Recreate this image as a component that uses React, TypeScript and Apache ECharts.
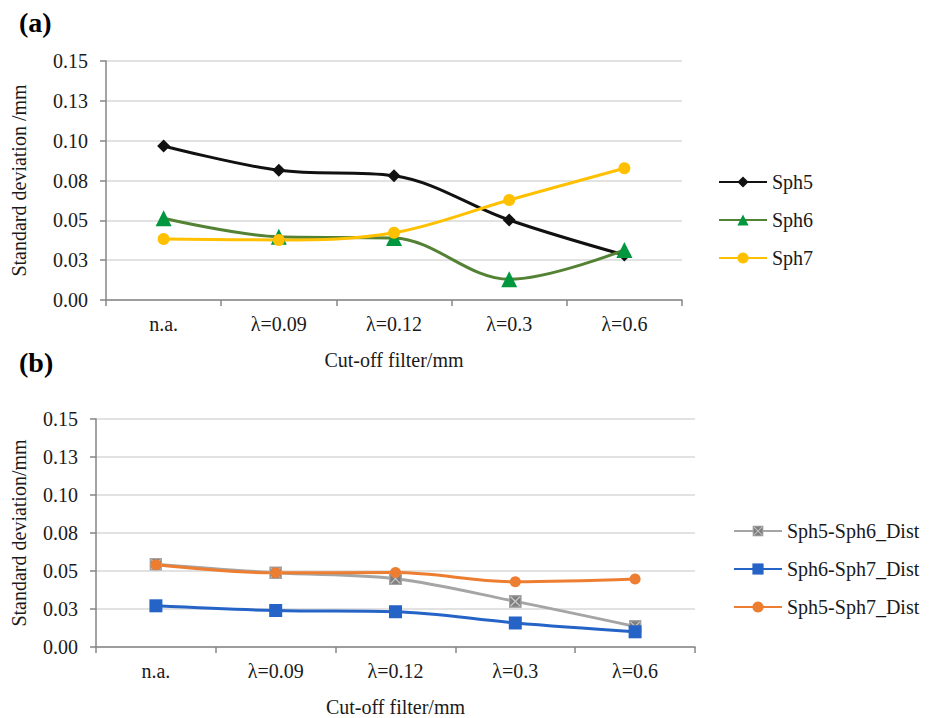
import React, { useEffect, useRef } from "react";
import * as echarts from "echarts";

const categories = ["n.a.", "λ=0.09", "λ=0.12", "λ=0.3", "λ=0.6"];
const tickLabels = ["0.00", "0.03", "0.05", "0.08", "0.10", "0.13", "0.15"];

const sph5 = [0.0967, 0.0814, 0.078, 0.0502, 0.0282];
const sph6 = [0.0513, 0.0397, 0.0389, 0.013, 0.0314];
const sph7 = [0.0383, 0.0377, 0.0422, 0.0628, 0.0827];

const dist56 = [0.0545, 0.0488, 0.0449, 0.03, 0.0135];
const dist67 = [0.0271, 0.024, 0.0232, 0.0158, 0.01];
const dist57 = [0.0541, 0.0488, 0.049, 0.0429, 0.0447];

const FONT = "Liberation Serif";
const TXT = "#1a1a1a";

const crossSvg =
  '<svg xmlns="http://www.w3.org/2000/svg" width="14" height="14" viewBox="0 0 14 14">' +
  '<rect x="0.75" y="0.75" width="12.5" height="12.5" fill="#7f7f7f" stroke="#a5a5a5" stroke-width="1.5"/>' +
  '<path d="M2,2 L12,12 M12,2 L2,12" stroke="#c8c8c8" stroke-width="1.3"/></svg>';
const crossSymbol = "image://data:image/svg+xml;charset=utf-8," + encodeURIComponent(crossSvg);

const txtStyle = { fontFamily: FONT, fontSize: 20, color: TXT };

function xAxisCfg(gridIndex: number) {
  return {
    type: "category",
    gridIndex,
    data: categories,
    boundaryGap: true,
    name: "Cut-off filter/mm",
    nameLocation: "middle",
    nameGap: 50,
    nameTextStyle: { ...txtStyle },
    axisLine: { show: true, lineStyle: { color: "#868686", width: 1.5 } },
    axisTick: { show: true, length: 6, lineStyle: { color: "#868686", width: 1.5 } },
    axisLabel: { ...txtStyle, margin: 14 },
    splitLine: { show: false },
  };
}

function yAxisCfg(gridIndex: number, name: string, nameGap: number) {
  return {
    type: "value",
    gridIndex,
    min: 0,
    max: 0.15,
    interval: 0.025,
    name,
    nameLocation: "middle",
    nameGap,
    nameTextStyle: { ...txtStyle },
    axisLine: { show: true, lineStyle: { color: "#868686", width: 1.5 } },
    axisTick: { show: true, length: 6, lineStyle: { color: "#868686", width: 1.5 } },
    axisLabel: {
      ...txtStyle,
      margin: 18,
      formatter: (v: number) => tickLabels[Math.round(v / 0.025)] ?? "",
    },
    splitLine: { show: true, lineStyle: { color: "#d9d9d9", width: 1.5 } },
  };
}

export default function App() {
  const ref = useRef<HTMLDivElement>(null);
  useEffect(() => {
    if (!ref.current) return;
    const chart = echarts.init(ref.current, null, { renderer: "svg" });
    const legendText = { ...txtStyle, lineHeight: 20 };
    chart.setOption({
      animation: false,
      backgroundColor: "#ffffff",
      textStyle: { ...txtStyle },
      grid: [
        { left: 106, top: 61, width: 576, height: 239 },
        { left: 96, top: 419, width: 599, height: 228 },
      ],
      xAxis: [xAxisCfg(0), xAxisCfg(1)],
      yAxis: [
        yAxisCfg(0, "Standard deviation /mm", 77),
        yAxisCfg(1, "Standard deviation/mm", 67),
      ],
      legend: [
        {
          data: ["Sph5", "Sph6", "Sph7"],
          orient: "vertical",
          left: 718,
          top: 172,
          padding: 0,
          itemWidth: 48,
          itemHeight: 14,
          itemGap: 18,
          textStyle: legendText,
        },
        {
          data: ["Sph5-Sph6_Dist", "Sph6-Sph7_Dist", "Sph5-Sph7_Dist"],
          orient: "vertical",
          left: 733,
          top: 521,
          padding: 0,
          itemWidth: 48,
          itemHeight: 14,
          itemGap: 18,
          textStyle: legendText,
        },
      ],
      graphic: [
        {
          type: "text",
          left: 19,
          top: 8,
          style: { text: "(a)", fontFamily: FONT, fontWeight: "bold", fontSize: 28, fill: "#000" },
        },
        {
          type: "text",
          left: 19,
          top: 348,
          style: { text: "(b)", fontFamily: FONT, fontWeight: "bold", fontSize: 28, fill: "#000" },
        },
      ],
      series: [
        {
          name: "Sph5",
          type: "line",
          xAxisIndex: 0,
          yAxisIndex: 0,
          data: sph5,
          smooth: 0.35,
          symbol: "diamond",
          symbolSize: 13,
          lineStyle: { color: "#111111", width: 3 },
          itemStyle: { color: "#111111" },
        },
        {
          name: "Sph6",
          type: "line",
          xAxisIndex: 0,
          yAxisIndex: 0,
          data: sph6,
          smooth: 0.35,
          symbol: "triangle",
          symbolSize: 16,
          lineStyle: { color: "#548235", width: 3 },
          itemStyle: { color: "#00973f" },
        },
        {
          name: "Sph7",
          type: "line",
          xAxisIndex: 0,
          yAxisIndex: 0,
          data: sph7,
          smooth: 0.35,
          symbol: "circle",
          symbolSize: 12,
          lineStyle: { color: "#ffc000", width: 3 },
          itemStyle: { color: "#ffc000" },
        },
        {
          name: "Sph5-Sph6_Dist",
          type: "line",
          xAxisIndex: 1,
          yAxisIndex: 1,
          data: dist56,
          smooth: 0.35,
          symbol: crossSymbol,
          symbolSize: 13,
          lineStyle: { color: "#a5a5a5", width: 3 },
          itemStyle: { color: "#a5a5a5" },
        },
        {
          name: "Sph6-Sph7_Dist",
          type: "line",
          xAxisIndex: 1,
          yAxisIndex: 1,
          data: dist67,
          smooth: 0.35,
          symbol: "rect",
          symbolSize: 13,
          lineStyle: { color: "#2563c7", width: 3 },
          itemStyle: { color: "#2563c7" },
        },
        {
          name: "Sph5-Sph7_Dist",
          type: "line",
          xAxisIndex: 1,
          yAxisIndex: 1,
          data: dist57,
          smooth: 0.35,
          symbol: "circle",
          symbolSize: 11,
          lineStyle: { color: "#ed7d31", width: 3 },
          itemStyle: { color: "#ed7d31" },
        },
      ],
    });
    return () => chart.dispose();
  }, []);
  return (
    <div
      ref={ref}
      style={{ position: "absolute", left: 0, top: 0, width: 931, height: 718, background: "#fff" }}
    />
  );
}
